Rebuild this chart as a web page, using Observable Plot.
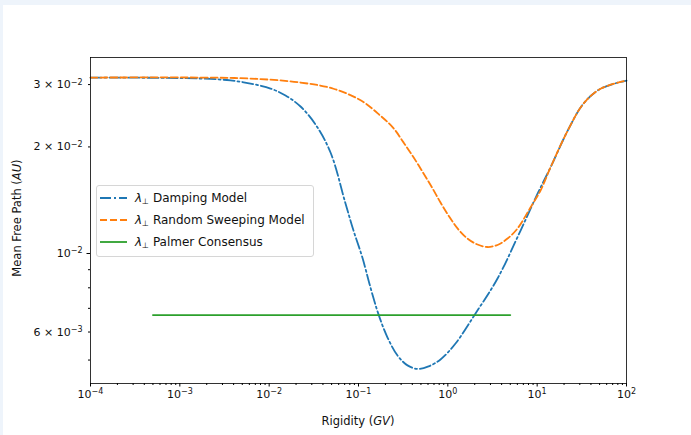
<!DOCTYPE html>
<html><head><meta charset="utf-8">
<script src="https://cdn.jsdelivr.net/npm/d3@7"></script>
<script src="https://cdn.jsdelivr.net/npm/@observablehq/plot@0.6"></script>
<style>
html,body{margin:0;padding:0}
body{background:#eef4fb;width:691px;height:435px;overflow:hidden;position:relative;font-family:"DejaVu Sans",sans-serif;color:#000}
#fig{position:absolute;left:3px;top:5px;width:688px;height:430px;background:#fff}
#chart{position:absolute;left:0;top:0}
.lab{position:absolute;font-size:11.5px;white-space:nowrap;color:#111}
#xlab{left:358px;top:421px;transform:translate(-50%,-50%)}
#ylab{left:17px;top:218px;transform:translate(-50%,-50%) rotate(-90deg)}
#legend{position:absolute;left:96px;top:185px;width:216px;height:70px;border:1px solid #d6d6d6;border-radius:3px;background:rgba(255,255,255,0.8);font-size:12px}
.row{position:absolute;left:0;height:20px;width:216px}
.row svg{position:absolute;left:1px;top:0}
.row span{position:absolute;left:38px;top:2px;white-space:nowrap;color:#111}
sub{font-size:8px;vertical-align:-2px}
</style></head>
<body>
<div id="fig"></div>
<div id="chart"></div>
<div class="lab" id="xlab">Rigidity (<i>GV</i>)</div>
<div class="lab" id="ylab">Mean Free Path (<i>AU</i>)</div>
<div id="legend"></div>
<script>
// ---- data ----
const dampX = [1e-4, 1.70e-3, 3.69e-3, 6.18e-3, 0.01035, 0.01524, 0.02244, 0.03304, 0.04862, 0.07154, 0.0879, 0.1105, 0.1363, 0.1675, 0.2113, 0.2734, 0.3538, 0.4576, 0.6079, 0.8281, 1.219, 2.042, 3.60, 6.52, 10.1, 14.1, 21.9, 33.0, 51.2, 100];
const dampY = [0.0314, 0.03121, 0.03082, 0.03021, 0.02924, 0.02795, 0.02601, 0.02314, 0.01929, 0.01384, 0.01161, 0.00974, 0.00801, 0.00673, 0.00579, 0.00515, 0.00483, 0.00472, 0.00480, 0.00502, 0.00557, 0.00677, 0.00850, 0.01161, 0.01476, 0.0175, 0.0222, 0.0265, 0.0292, 0.0308];
const sweepX = [1e-4, 1.70e-3, 6.18e-3, 0.02244, 0.0525, 0.108, 0.176, 0.246, 0.319, 0.413, 0.535, 0.674, 0.828, 1.018, 1.284, 1.661, 2.149, 2.782, 3.599, 4.656, 6.03, 8.42, 10.9, 14.1, 21.9, 33.0, 51.2, 100];
const sweepY = [0.0314, 0.0314, 0.0312, 0.0304, 0.0292, 0.0270, 0.0245, 0.0226, 0.0206, 0.0187, 0.01683, 0.01527, 0.01393, 0.01280, 0.01177, 0.01102, 0.01060, 0.01043, 0.01057, 0.01102, 0.01177, 0.01349, 0.01506, 0.0175, 0.0222, 0.0265, 0.0292, 0.0308];
const palmerX = [5e-4, 5];
const palmerY = [0.0067, 0.0067];

const seriesNames = ["Damping Model", "Random Sweeping Model", "Palmer Consensus"];
const seriesColors = ["#1f77b4", "#ff7f0e", "#2ca02c"];
const seriesDash = ["11,3,2,3", "7,3", null];

const xMajor = [1e-4, 1e-3, 1e-2, 1e-1, 1e0, 1e1, 1e2];
const xMajorLabels = ["10^\u22124", "10^\u22123", "10^\u22122", "10^\u22121", "10^0", "10^1", "10^2"];
const yMajor = [1e-2];
const yMajorLabels = ["10^\u22122"];
const yMinorLabeled = [0.03, 0.02, 0.006];
const yMinorLabels = ["3 \u00D7 10^\u22122", "2 \u00D7 10^\u22122", "6 \u00D7 10^\u22123"];
const yMinor = [0.005, 0.007, 0.008, 0.009];

const xMinor = [];
for (let e = -4; e < 2; e++) for (let m = 2; m <= 9; m++) xMinor.push(m * Math.pow(10, e));

const toRows = (xs, ys) => xs.map((x, i) => ({x, y: ys[i]}));
const damp = toRows(dampX, dampY), sweep = toRows(sweepX, sweepY), palmer = toRows(palmerX, palmerY);
const lookup = (ks, vs) => { const m = new Map(ks.map((k, i) => [k, vs[i]])); return d => m.get(d); };

const chart = Plot.plot({
  width: 691, height: 435,
  marginLeft: 90, marginRight: 65, marginTop: 57, marginBottom: 52,
  style: {background: "transparent", fontFamily: "DejaVu Sans", fontSize: "11px", color: "#111"},
  x: {type: "log", domain: [1e-4, 1e2]},
  y: {type: "log", domain: [0.004293, 0.03578]},
  marks: [
    Plot.axisX({ticks: xMinor, tickSize: 2, tickFormat: () => "", label: null, stroke: "#000"}),
    Plot.axisX({ticks: xMajor, tickSize: 3.5, tickPadding: 3, tickFormat: lookup(xMajor, xMajorLabels), label: null, stroke: "#000", fontSize: 11}),
    Plot.axisY({ticks: yMinor, tickSize: 2, tickFormat: () => "", label: null, stroke: "#000"}),
    Plot.axisY({ticks: yMinorLabeled, tickSize: 2, tickPadding: 6, tickFormat: lookup(yMinorLabeled, yMinorLabels), label: null, stroke: "#000", fontSize: 11}),
    Plot.axisY({ticks: yMajor, tickSize: 3.5, tickPadding: 4.5, tickFormat: lookup(yMajor, yMajorLabels), label: null, stroke: "#000", fontSize: 11}),
    Plot.line(damp, {x: "x", y: "y", stroke: seriesColors[0], strokeWidth: 1.8, strokeDasharray: seriesDash[0], curve: "catmull-rom"}),
    Plot.line(sweep, {x: "x", y: "y", stroke: seriesColors[1], strokeWidth: 1.8, strokeDasharray: seriesDash[1], curve: "catmull-rom"}),
    Plot.line(palmer, {x: "x", y: "y", stroke: seriesColors[2], strokeWidth: 1.8}),
    Plot.frame({stroke: "#000", strokeWidth: 0.8})
  ]
});
// render exponents as superscripts
chart.querySelectorAll("text").forEach(t => {
  const s = t.textContent;
  if (s.includes("^")) {
    const [base, exp] = s.split("^");
    t.textContent = base;
    const sp = document.createElementNS("http://www.w3.org/2000/svg", "tspan");
    sp.setAttribute("dy", "-0.45em");
    sp.setAttribute("font-size", "8");
    sp.textContent = exp;
    t.appendChild(sp);
  }
});
document.getElementById("chart").appendChild(chart);

// legend
const leg = document.getElementById("legend");
seriesNames.forEach((name, i) => {
  const row = document.createElement("div");
  row.className = "row";
  row.style.top = (3 + i * 22) + "px";
  const dash = seriesDash[i] ? `stroke-dasharray="${seriesDash[i]}"` : "";
  row.innerHTML = `<svg width="32" height="20"><line x1="2" y1="9" x2="29" y2="9" stroke="${seriesColors[i]}" stroke-width="1.8" ${dash}/></svg><span><i>\u03BB</i><sub>\u22A5</sub> ${name}</span>`;
  leg.appendChild(row);
});
</script>
</body></html>
